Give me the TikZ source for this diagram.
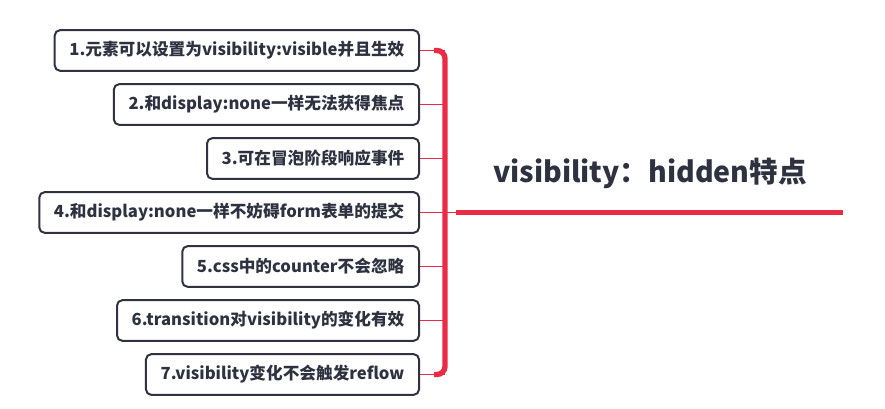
\documentclass[tikz,border=0pt]{standalone}
\usepackage{fontspec}
\setmainfont{Noto Sans CJK SC}
\usetikzlibrary{calc}

\tikzstyle{item-box}=[draw={box-line}, line width=1.5pt, rounded corners=4pt, anchor=east, minimum height=30.5pt, inner xsep=11pt, text={box-text}, font=\fontsize{12.5}{15}\selectfont\bfseries]
\tikzstyle{root-label}=[text={box-text}, font=\fontsize{21.4}{25}\selectfont\bfseries]
\tikzstyle{trunk}=[draw={branch-red}, line width=4pt, rounded corners=6pt]
\tikzstyle{twig}=[draw={branch-red}, line width=1.1pt]
\tikzstyle{root-line}=[draw={branch-red}, line width=4.2pt]
\definecolor{branch-red}{HTML}{E92B45}
\definecolor{box-line}{HTML}{30333F}
\definecolor{box-text}{HTML}{2E3240}

\begin{document}
\begin{tikzpicture}[x=0.75pt, y=-0.75pt]
      \useasboundingbox (0, 0) rectangle (885, 409);
      \node (item1) at (420, 50.5)
            [item-box] {1.元素可以设置为visibility:visible并且生效};
      \node (item2) at (420, 104.5)
            [item-box] {2.和display:none一样无法获得焦点};
      \node (item3) at (420, 158.5)
            [item-box] {3.可在冒泡阶段响应事件};
      \node (item4) at (420, 212.5)
            [item-box] {4.和display:none一样不妨碍form表单的提交};
      \node (item5) at (420, 266.5)
            [item-box] {5.css中的counter不会忽略};
      \node (item6) at (420, 320.5)
            [item-box] {6.transition对visibility的变化有效};
      \node (item7) at (420, 374.5)
            [item-box] {7.visibility变化不会触发reflow};
      \node (root) at (650, 173)
            [root-label] {visibility：hidden特点};
      \coordinate (hub) at (445, 212.5);
      \coordinate (root-start) at (456, 212.5);
      \coordinate (root-end) at (843, 212.5);

      \draw[trunk] ($(item1.east)+(14,0)$) -| (hub) |- ($(item7.east)+(14,0)$);
      \foreach \i in {1,...,7}
            \draw[twig] (item\i.east) -- (item\i.east -| hub);
      \draw[twig] (hub) -- (root-start);
      \draw[root-line] (root-start) -- (root-end);
    \end{tikzpicture}
\end{document}
